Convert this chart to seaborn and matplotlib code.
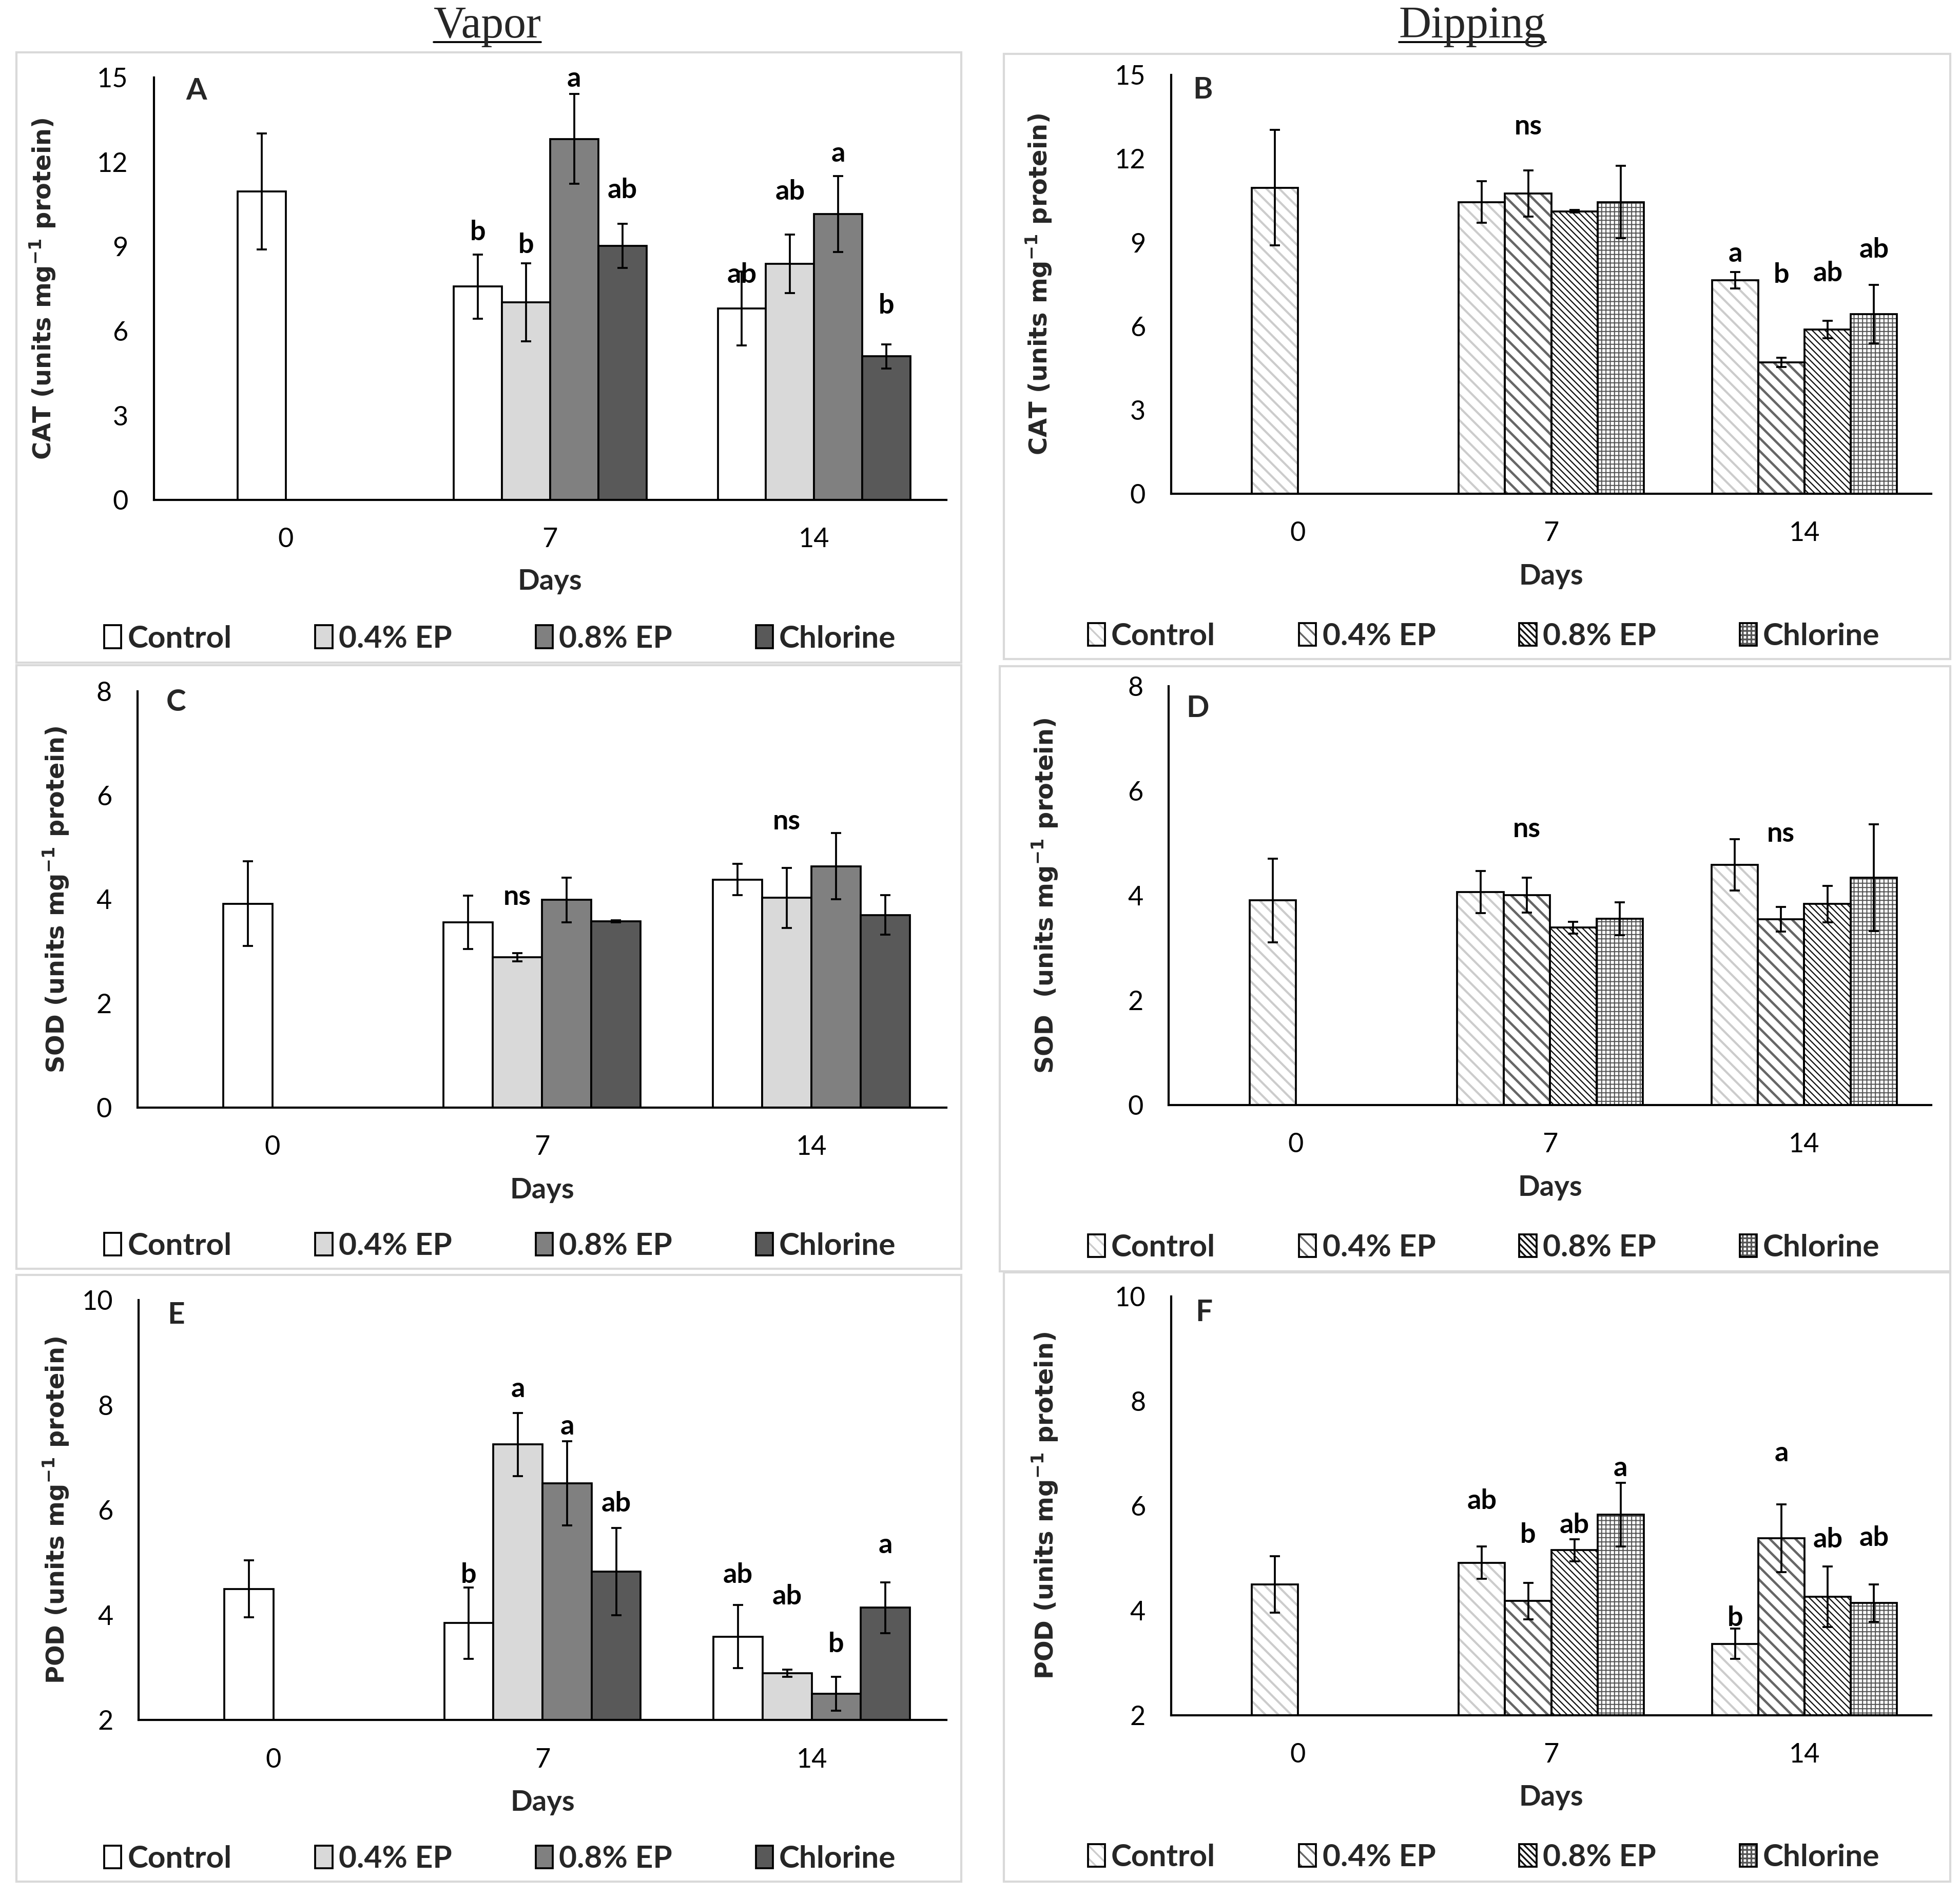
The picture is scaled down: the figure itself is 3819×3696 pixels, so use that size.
import matplotlib
matplotlib.use("Agg")
import matplotlib.pyplot as plt
from matplotlib.patches import Rectangle, Patch
from matplotlib.lines import Line2D
from matplotlib.container import BarContainer
import seaborn as sns
import pandas as pd
import numpy as np

# ---- data ----
days = ["0", "7", "14"]
treatments = ["Control", "0.4% EP", "0.8% EP", "Chlorine"]

# A - CAT, vapor
cat_vapor_mean = [[10.95], [7.58, 7.02, 12.82, 9.02], [6.80, 8.38, 10.15, 5.10]]
cat_vapor_sd = [[2.06], [1.14, 1.39, 1.60, 0.78], [1.32, 1.04, 1.35, 0.43]]
cat_vapor_letters = [[""], ["b", "b", "a", "ab"], ["ab", "ab", "a", "b"]]
cat_vapor_letter_y = [[0], [9.5, 9.05, 14.95, 11.0], [8.0, 10.95, 12.3, 6.9]]

# B - CAT, dipping
cat_dip_mean = [[10.96], [10.45, 10.75, 10.12, 10.45], [7.65, 4.71, 5.88, 6.43]]
cat_dip_sd = [[2.07], [0.74, 0.83, 0.05, 1.29], [0.30, 0.17, 0.31, 1.05]]
cat_dip_letters = [[""], ["", "ns", "", ""], ["a", "b", "ab", "ab"]]
cat_dip_letter_y = [[0], [0, 13.15, 0, 0], [8.6, 7.85, 7.9, 8.75]]

# C - SOD, vapor
sod_vapor_mean = [[3.92], [3.56, 2.89, 3.99, 3.58], [4.38, 4.03, 4.64, 3.70]]
sod_vapor_sd = [[0.81], [0.51, 0.08, 0.43, 0.02], [0.30, 0.58, 0.64, 0.38]]
sod_vapor_letters = [[""], ["", "ns", "", ""], ["", "ns", "", ""]]
sod_vapor_letter_y = [[0], [0, 4.05, 0, 0], [0, 5.5, 0, 0]]

# D - SOD, dipping
sod_dip_mean = [[3.91], [4.07, 4.01, 3.39, 3.56], [4.59, 3.55, 3.84, 4.34]]
sod_dip_sd = [[0.80], [0.40, 0.33, 0.11, 0.31], [0.49, 0.24, 0.35, 1.02]]
sod_dip_letters = [[""], ["", "ns", "", ""], ["", "ns", "", ""]]
sod_dip_letter_y = [[0], [0, 5.27, 0, 0], [0, 5.18, 0, 0]]

# E - POD, vapor
pod_vapor_mean = [[4.50], [3.85, 7.25, 6.51, 4.83], [3.59, 2.89, 2.50, 4.14]]
pod_vapor_sd = [[0.54], [0.68, 0.60, 0.80, 0.83], [0.60, 0.07, 0.32, 0.48]]
pod_vapor_letters = [[""], ["b", "a", "a", "ab"], ["ab", "ab", "b", "a"]]
pod_vapor_letter_y = [[0], [4.77, 8.3, 7.59, 6.12], [4.77, 4.35, 3.45, 5.33]]

# F - POD, dipping
pod_dip_mean = [[4.50], [4.91, 4.18, 5.15, 5.83], [3.36, 5.38, 4.26, 4.14]]
pod_dip_sd = [[0.54], [0.31, 0.35, 0.21, 0.61], [0.29, 0.65, 0.58, 0.36]]
pod_dip_letters = [[""], ["ab", "b", "ab", "a"], ["b", "a", "ab", "ab"]]
pod_dip_letter_y = [[0], [6.09, 5.44, 5.63, 6.72], [3.85, 7.0, 5.35, 5.38]]

# ---- styles ----
vapor_colors = ["#ffffff", "#d9d9d9", "#808080", "#595959"]
dip_hatches = ["\\" * 4, "\\" * 4, "\\" * 8, "+" * 6]
dip_hatch_colors = ["#cccccc", "#666666", "#111111", "#555555"]
dip_hatch_lw = [1.0, 1.1, 0.55, 0.5]

sns.set_theme(style="white")
plt.rcParams["font.family"] = ["Lato", "DejaVu Sans"]
plt.rcParams["hatch.linewidth"] = 0.8
plt.rcParams["mathtext.default"] = "regular"

fig = plt.figure(figsize=(3819 / 300, 3696 / 300), dpi=300)
W, H = 1568.0, 1517.5


def fx(x):
    return x / W


def fy(y):
    return 1 - y / H


def set_hatch_lw(patch, lw):
    if hasattr(patch, "set_hatch_linewidth"):
        patch.set_hatch_linewidth(lw)


panels = [
    dict(mean=cat_vapor_mean, sd=cat_vapor_sd, let=cat_vapor_letters, let_y=cat_vapor_letter_y,
         style="vapor", ylabel="CAT (units mg$^{-1}$ protein)", ylim=(0, 15), yticks=np.arange(0, 16, 3),
         tag="A", axes=(123, 62, 757, 400), box=(13, 42, 769, 530), leg=(400, 511), ylab_x=34,
         tag_xy=(157, 73), days_y=465),
    dict(mean=cat_dip_mean, sd=cat_dip_sd, let=cat_dip_letters, let_y=cat_dip_letter_y,
         style="dip", ylabel="CAT (units mg$^{-1}$ protein)", ylim=(0, 15), yticks=np.arange(0, 16, 3),
         tag="B", axes=(937, 60, 1545, 395), box=(803, 43, 1560, 527), leg=(1187, 509), ylab_x=831,
         tag_xy=(962, 72), days_y=461),
    dict(mean=sod_vapor_mean, sd=sod_vapor_sd, let=sod_vapor_letters, let_y=sod_vapor_letter_y,
         style="vapor", ylabel="SOD (units mg$^{-1}$ protein)", ylim=(0, 8), yticks=np.arange(0, 9, 2),
         tag="C", axes=(110, 553, 757, 886), box=(13, 532, 769, 1015), leg=(400, 997), ylab_x=45,
         tag_xy=(141, 562), days_y=952),
    dict(mean=sod_dip_mean, sd=sod_dip_sd, let=sod_dip_letters, let_y=sod_dip_letter_y,
         style="dip", ylabel="SOD  (units mg$^{-1}$ protein)", ylim=(0, 8), yticks=np.arange(0, 9, 2),
         tag="D", axes=(935, 549, 1545, 884), box=(800, 533, 1560, 1017), leg=(1187, 998), ylab_x=836,
         tag_xy=(958, 567), days_y=950),
    dict(mean=pod_vapor_mean, sd=pod_vapor_sd, let=pod_vapor_letters, let_y=pod_vapor_letter_y,
         style="vapor", ylabel="POD (units mg$^{-1}$ protein)", ylim=(2, 10), yticks=np.arange(2, 11, 2),
         tag="E", axes=(111, 1040, 757, 1376), box=(13, 1020, 769, 1505), leg=(400, 1487), ylab_x=45,
         tag_xy=(141, 1052), days_y=1442),
    dict(mean=pod_dip_mean, sd=pod_dip_sd, let=pod_dip_letters, let_y=pod_dip_letter_y,
         style="dip", ylabel="POD (units mg$^{-1}$ protein)", ylim=(2, 10), yticks=np.arange(2, 11, 2),
         tag="F", axes=(937, 1037, 1545, 1372), box=(803, 1018, 1560, 1505), leg=(1187, 1486), ylab_x=836,
         tag_xy=(963, 1050), days_y=1438),
]

edge_lw = 0.9

for p in panels:
    l, t, r, b = p["axes"]
    ax = fig.add_axes([fx(l), fy(b), (r - l) / W, (b - t) / H])

    rows = []
    for di, vals in enumerate(p["mean"]):
        for tr, v in zip(treatments, vals):
            rows.append({"Days": days[di], "treatment": tr, "value": v})
    df = pd.DataFrame(rows)

    if p["style"] == "vapor":
        palette = dict(zip(treatments, vapor_colors))
    else:
        palette = dict(zip(treatments, ["#ffffff"] * 4))

    sns.barplot(data=df, x="Days", y="value", hue="treatment", order=days, hue_order=treatments,
                palette=palette, saturation=1, width=0.73, errorbar=None, edgecolor="black",
                linewidth=edge_lw, legend=False, ax=ax)

    bar_conts = [c for c in ax.containers if isinstance(c, BarContainer)]
    for ti, cont in enumerate(bar_conts):
        for bar in cont.patches:
            hgt = bar.get_height()
            if np.isnan(hgt):
                continue
            w = bar.get_width()
            di = int(round(bar.get_x() + w / 2))
            if di == 0:
                # day 0 control sits just left of the tick
                bar.set_x(bar.get_x() + w)
            if p["style"] == "dip":
                bar.set_edgecolor(dip_hatch_colors[ti])
                bar.set_hatch(dip_hatches[ti])
                set_hatch_lw(bar, dip_hatch_lw[ti])
                bar.set_linewidth(0)
                ax.add_patch(Rectangle(bar.get_xy(), w, hgt, fill=False, edgecolor="black",
                                       linewidth=edge_lw, zorder=bar.get_zorder() + 0.1))
            xc = bar.get_x() + w / 2
            ax.errorbar(xc, p["mean"][di][ti], yerr=p["sd"][di][ti], fmt="none", ecolor="black",
                        elinewidth=0.9, capsize=2.4, capthick=0.9, zorder=5)
            lab = p["let"][di][ti]
            if lab:
                ax.text(xc, p["let_y"][di][ti], lab, ha="center", va="center",
                        fontsize=13, fontweight="bold", color="black", zorder=6)

    ax.set_xlim(-0.5, 2.5)
    ax.set_ylim(*p["ylim"])
    ax.set_yticks(p["yticks"])
    ax.tick_params(axis="both", length=0, labelsize=12.5, colors="black")
    ax.tick_params(axis="x", pad=13)
    ax.tick_params(axis="y", pad=12)
    for sp in ["top", "right"]:
        ax.spines[sp].set_visible(False)
    for sp in ["left", "bottom"]:
        ax.spines[sp].set_color("black")
        ax.spines[sp].set_linewidth(1.0)
    ax.set_facecolor("none")

    ax.set_xlabel("Days", fontsize=13.5, fontweight="bold")
    ax.xaxis.label.set_va("center")
    ax.xaxis.set_label_coords(fx((l + r) / 2), fy(p["days_y"]), transform=fig.transFigure)
    ax.set_ylabel(p["ylabel"], fontsize=11.5, fontweight="bold", family="DejaVu Sans")
    ax.yaxis.label.set_va("center")
    ax.yaxis.set_label_coords(fx(p["ylab_x"]), fy((t + b) / 2), transform=fig.transFigure)

    fig.text(fx(p["tag_xy"][0]), fy(p["tag_xy"][1]), p["tag"], fontsize=14, fontweight="bold",
             ha="center", va="center")

    # legend
    handles = []
    for ti in range(4):
        if p["style"] == "vapor":
            handles.append(Patch(facecolor=vapor_colors[ti], edgecolor="black", linewidth=edge_lw))
        else:
            hp = Patch(facecolor="white", edgecolor=dip_hatch_colors[ti], hatch=dip_hatches[ti], linewidth=0)
            set_hatch_lw(hp, dip_hatch_lw[ti])
            handles.append((hp, Patch(fill=False, edgecolor="black", linewidth=edge_lw)))
    leg = ax.legend(handles, treatments, loc="center", bbox_to_anchor=(fx(p["leg"][0]), fy(p["leg"][1])),
                    bbox_transform=fig.transFigure, ncol=4, frameon=False, handlelength=0.55,
                    handleheight=0.75, handletextpad=0.2, columnspacing=2.7,
                    prop={"size": 14.5, "weight": "bold"})

    bl, bt, br, bb = p["box"]
    fig.add_artist(Rectangle((fx(bl), fy(bb)), (br - bl) / W, (bb - bt) / H, transform=fig.transFigure,
                             fill=False, edgecolor="#d9d9d9", linewidth=1.0))

# column titles, underlined
fig.canvas.draw()
renderer = fig.canvas.get_renderer()
for title, xc in [("Vapor", 390), ("Dipping", 1178)]:
    txt = fig.text(fx(xc), fy(21), title, fontsize=21, family="Liberation Serif", ha="center", va="center")
    bb = txt.get_window_extent(renderer).transformed(fig.transFigure.inverted())
    fig.add_artist(Line2D([bb.x0, bb.x1], [bb.y0 + 0.0025, bb.y0 + 0.0025], color="black", linewidth=0.9,
                          transform=fig.transFigure))

fig.savefig("out.png", dpi=300, facecolor="white")
